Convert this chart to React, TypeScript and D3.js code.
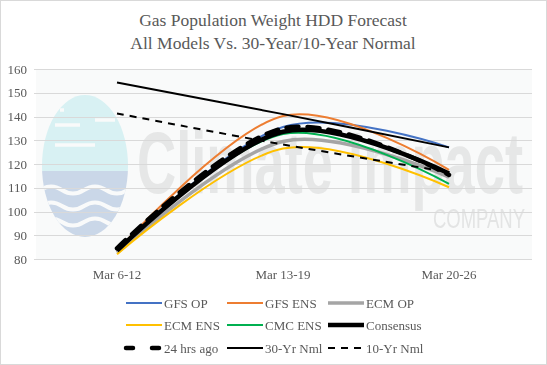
import React, { useEffect, useRef } from 'react';
import * as d3 from 'd3';

const categories = ['Mar 6-12', 'Mar 13-19', 'Mar 20-26'];
const yTicks = [80, 90, 100, 110, 120, 130, 140, 150, 160];

const gfsOp = [84, 135.6, 127];
const gfsEns = [83.5, 140.2, 117.5];
const ecmOp = [82.6, 129.5, 114.5];
const ecmEns = [82, 126.5, 110.2];
const cmcEns = [84, 132.6, 111.6];
const consensus = [83.5, 133.6, 116];
const hrs24Ago = [84.5, 135, 115.4];
const nml30 = [154.3, 141, 127];
const nml10 = [141.3, 128.2, 116.6];

const seriesNames = ['GFS OP', 'GFS ENS', 'ECM OP', 'ECM ENS', 'CMC ENS', 'Consensus', '24 hrs ago', '30-Yr Nml', '10-Yr Nml'];
const seriesValues = [gfsOp, gfsEns, ecmOp, ecmEns, cmcEns, consensus, hrs24Ago, nml30, nml10];

const styles = [
  { color: '#4472c4', width: 2, dash: null },
  { color: '#ed7d31', width: 2, dash: null },
  { color: '#a5a5a5', width: 3.5, dash: null },
  { color: '#ffc000', width: 2, dash: null },
  { color: '#00b050', width: 2, dash: null },
  { color: '#000000', width: 4.5, dash: null },
  { color: '#000000', width: 4.5, dash: '12,9' },
  { color: '#000000', width: 2, dash: null },
  { color: '#000000', width: 2, dash: '7,6' },
];

const W = 547;
const H = 365;

const App = () => {
  const svgRef = useRef(null);

  useEffect(() => {
    const svg = d3.select(svgRef.current);
    svg.selectAll('*').remove();

    const left = 34, right = 532, top = 69, bottom = 259;
    const textColor = '#595959';
    const serif = '"Liberation Serif", "Times New Roman", serif';

    // outer border
    svg.append('rect')
      .attr('x', 0.5).attr('y', 0.5)
      .attr('width', W - 1).attr('height', H - 1)
      .attr('fill', '#fff').attr('stroke', '#d9d9d9');

    // title
    const title = svg.append('g').attr('font-family', serif).attr('font-size', 17.5)
      .attr('fill', textColor).attr('text-anchor', 'middle');
    title.append('text').attr('x', 273).attr('y', 26).text('Gas Population Weight HDD Forecast');
    title.append('text').attr('x', 273).attr('y', 49).text('All Models Vs. 30-Year/10-Year Normal');

    const x = d3.scalePoint().domain(categories).range([left, right]).padding(0.5);
    const y = d3.scaleLinear().domain([80, 160]).range([bottom, top]);

    // watermark-ish background
    svg.append('rect').attr('x', left + 2).attr('y', top).attr('width', right - left - 2)
      .attr('height', bottom - top).attr('fill', '#f9fafa');
    const wm = svg.append('g');
    wm.append('clipPath').attr('id', 'egg')
      .append('ellipse').attr('cx', 85).attr('cy', 166).attr('rx', 43).attr('ry', 71);
    const eg = wm.append('g').attr('clip-path', 'url(#egg)');
    eg.append('rect').attr('x', 40).attr('y', 94).attr('width', 90).attr('height', 77).attr('fill', '#d8f1f3');
    eg.append('rect').attr('x', 40).attr('y', 171).attr('width', 90).attr('height', 70).attr('fill', '#cad7e8');
    [190, 206, 222].forEach(wy => {
      eg.append('path')
        .attr('d', `M40,${wy} q11,-7 22,0 t22,0 t22,0 t22,0`)
        .attr('fill', 'none').attr('stroke', '#f9fafa').attr('stroke-width', 4);
    });
    [[60, 110, 64, 110], [55, 125, 80, 125], [95, 120, 115, 120], [55, 145, 95, 145]].forEach(p => {
      eg.append('line').attr('x1', p[0]).attr('y1', p[1]).attr('x2', p[2]).attr('y2', p[3])
        .attr('stroke', '#f9fafa').attr('stroke-width', 3.5);
    });
    wm.append('text').attr('x', 137).attr('y', 193).attr('textLength', 386)
      .attr('lengthAdjust', 'spacingAndGlyphs')
      .attr('font-family', '"Liberation Sans Narrow", "Liberation Sans", sans-serif')
      .attr('font-size', 88).attr('font-weight', 'bold').attr('fill', '#e6e7e7')
      .text('Climate Impact');
    wm.append('text').attr('x', 433).attr('y', 228).attr('textLength', 92)
      .attr('lengthAdjust', 'spacingAndGlyphs')
      .attr('font-family', '"Liberation Sans Narrow", "Liberation Sans", sans-serif')
      .attr('font-size', 28).attr('fill', '#e3e4e4')
      .text('COMPANY');

    // grid
    svg.append('g').selectAll('line').data(yTicks).enter().append('line')
      .attr('x1', left).attr('x2', right)
      .attr('y1', d => Math.round(y(d)) + 0.5).attr('y2', d => Math.round(y(d)) + 0.5)
      .attr('stroke', '#d9d9d9').attr('stroke-width', 1);

    // y labels
    svg.append('g').selectAll('text').data(yTicks).enter().append('text')
      .attr('x', 27).attr('y', d => y(d) + 4.5)
      .attr('text-anchor', 'end').attr('font-family', serif).attr('font-size', 13)
      .attr('fill', textColor).text(d => d);

    // x labels
    svg.append('g').selectAll('text').data(categories).enter().append('text')
      .attr('x', d => x(d)).attr('y', 279)
      .attr('text-anchor', 'middle').attr('font-family', serif).attr('font-size', 13)
      .attr('fill', textColor).text(d => d);

    // lines
    const line = d3.line()
      .x((d, i) => x(categories[i]))
      .y(d => y(d))
      .curve(d3.curveCatmullRom.alpha(0));

    seriesValues.forEach((vals, i) => {
      const s = styles[i];
      svg.append('path')
        .attr('d', line(vals))
        .attr('fill', 'none')
        .attr('stroke', s.color)
        .attr('stroke-width', s.width)
        .attr('stroke-dasharray', s.dash)
        .attr('stroke-linecap', i === 6 ? 'round' : 'butt');
    });

    // legend
    const colX = [126, 227, 328];
    const rowY = [303, 325, 348];
    seriesNames.forEach((name, i) => {
      const s = styles[i];
      const lx = colX[i % 3], ly = rowY[Math.floor(i / 3)];
      svg.append('line')
        .attr('x1', lx).attr('x2', lx + 36).attr('y1', ly).attr('y2', ly)
        .attr('stroke', s.color).attr('stroke-width', s.width)
        .attr('stroke-dasharray', i === 6 ? '7,19' : i === 8 ? '7,6' : null)
        .attr('stroke-linecap', i === 6 ? 'round' : 'butt');
      svg.append('text')
        .attr('x', lx + 38).attr('y', ly + 4.5)
        .attr('font-family', serif).attr('font-size', 13)
        .attr('fill', textColor).text(name);
    });
  }, []);

  return (
    <div style={{ position: 'fixed', left: 0, top: 0 }}>
      <svg ref={svgRef} width={W} height={H} viewBox={`0 0 ${W} ${H}`} style={{ display: 'block' }} />
    </div>
  );
};

export default App;
